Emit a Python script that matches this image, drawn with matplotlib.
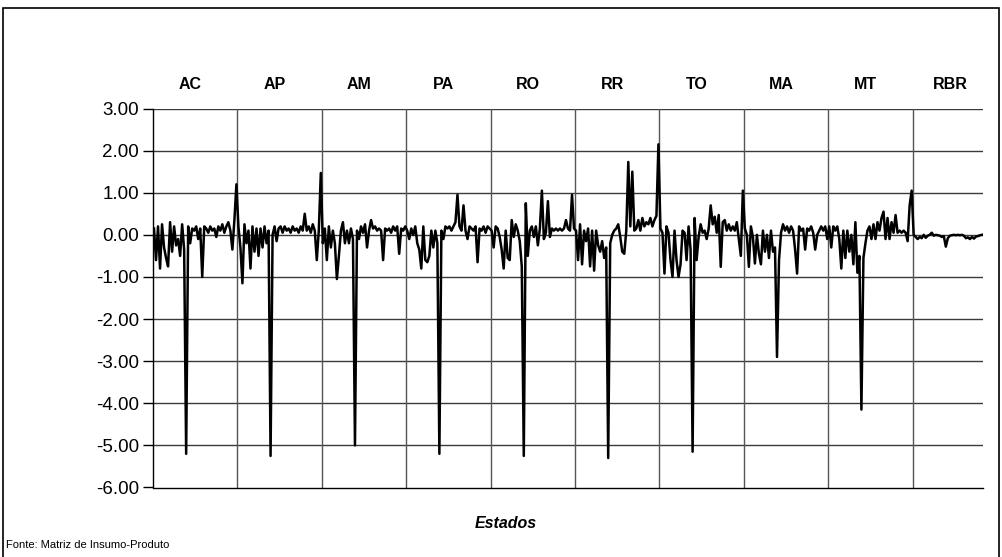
import numpy as np
import matplotlib
matplotlib.use('Agg')
import matplotlib.pyplot as plt
from matplotlib.ticker import FormatStrFormatter, MultipleLocator
from matplotlib.patches import Rectangle

plt.rcParams['font.family'] = ['Liberation Sans', 'DejaVu Sans']
plt.rcParams['axes.unicode_minus'] = False

#state groups, 42 sectors each (RBR is shorter)
states = ['AC', 'AP', 'AM', 'PA', 'RO', 'RR', 'TO', 'MA', 'MT', 'RBR']

ac = [0.15, -0.6, 0.2, -0.8, 0.25, -0.3, -0.55, -0.75, 0.3, -0.4, 0.2, -0.25, -0.1, -0.5, 0.25, -0.35,
      -5.2, 0.2, -0.2, 0.15, 0.1, 0.2, -0.1, 0.15, -1.0, 0.2, 0.15, 0.05, 0.2, 0.1, 0.15, -0.05,
      0.2, 0.1, 0.25, 0.05, 0.2, 0.3, 0.1, -0.35, 0.35, 1.2]
ap = [0.2, -0.3, -1.15, 0.25, -0.2, 0.1, -0.8, 0.2, -0.4, 0.15, -0.5, 0.15, -0.3, 0.2, -0.2, 0.1,
      -5.25, 0.0, 0.2, -0.15, 0.15, 0.2, 0.05, 0.2, 0.1, 0.15, 0.05, 0.2, 0.1, 0.15, 0.05, 0.2,
      0.1, 0.5, 0.1, 0.2, 0.05, 0.25, 0.1, -0.6, 0.1, 1.47]
am = [-0.2, 0.15, -0.6, 0.2, -0.3, 0.1, -0.2, -1.05, -0.5, 0.1, 0.3, -0.2, 0.1, -0.2, 0.15, -0.1,
      -5.0, 0.1, -0.1, 0.2, 0.05, 0.25, -0.3, 0.1, 0.35, 0.15, 0.2, 0.1, 0.15, 0.1, -0.6, 0.15,
      0.1, 0.15, 0.05, 0.2, 0.1, 0.2, -0.45, 0.15, 0.1, 0.2]
pa = [0.1, -0.1, 0.15, 0.0, 0.2, -0.2, -0.35, -0.8, 0.2, -0.6, -0.65, -0.5, 0.1, -0.3, 0.1, -0.2,
      -5.2, 0.1, -0.1, 0.2, 0.15, 0.2, 0.1, 0.2, 0.3, 0.95, 0.2, 0.1, 0.7, 0.1, -0.1, 0.2,
      0.15, 0.1, 0.2, -0.65, 0.15, 0.1, 0.2, 0.05, 0.2, 0.15]
ro = [0.1, -0.3, 0.2, 0.15, -0.05, -0.35, -0.8, 0.1, -0.55, -0.6, 0.35, -0.05, 0.25, 0.1, -0.15, -0.75,
      -5.25, 0.75, -0.5, 0.1, 0.2, -0.05, 0.2, -0.25, 0.15, 1.05, -0.1, 0.05, 0.8, -0.05, 0.15, 0.1,
      0.15, 0.1, 0.15, 0.1, 0.15, 0.35, 0.15, 0.1, 0.95, 0.15]
rr = [0.1, -0.6, 0.25, -0.7, 0.1, -0.15, 0.15, -0.75, 0.1, -0.85, 0.1, -0.25, -0.4, -0.15, -0.55, -0.3,
      -5.3, -0.2, 0.0, 0.1, 0.15, 0.25, -0.05, -0.4, -0.45, 0.1, 1.73, 0.2, 1.5, 0.1, 0.15, 0.35,
      0.1, 0.4, 0.2, 0.3, 0.25, 0.4, 0.2, 0.35, 0.45, 2.15]
to = [0.15, 0.05, -0.92, 0.2, 0.05, -0.6, -1.0, 0.1, -0.6, -1.0, -0.7, 0.1, 0.05, -0.6, 0.2, -0.35,
      -5.15, 0.4, -0.6, -0.05, 0.25, 0.05, 0.1, -0.1, 0.15, 0.7, 0.25, 0.43, 0.05, 0.47, -0.76, 0.3,
      0.35, 0.1, 0.25, 0.1, 0.2, 0.1, 0.3, -0.1, -0.5, 1.05]
ma = [0.15, 0.0, -0.76, 0.2, -0.05, -0.68, 0.0, -0.45, -0.7, 0.1, -0.4, 0.0, -0.55, 0.1, -0.4, -0.3,
      -2.9, -0.6, 0.05, 0.25, 0.1, 0.2, 0.05, 0.2, 0.1, -0.35, -0.92, 0.2, 0.1, 0.15, -0.35, 0.15,
      0.1, 0.2, 0.05, -0.35, 0.0, 0.1, 0.2, 0.1, 0.2, -0.1]
mt = [0.2, -0.3, 0.2, 0.1, 0.2, -0.1, -0.8, 0.1, -0.55, 0.1, -0.4, 0.0, -0.7, 0.3, -0.9, -0.5,
      -4.15, -0.55, -0.2, 0.1, 0.2, -0.1, 0.25, -0.1, 0.3, 0.1, 0.4, 0.55, -0.1, 0.4, -0.1, 0.3,
      0.05, 0.47, 0.05, 0.1, 0.05, 0.1, 0.05, -0.15, 0.7, 1.05]
rbr = [0.0, -0.05, -0.1, -0.05, -0.08, 0.0, -0.07, -0.02, 0.0, 0.05, -0.02, 0.0, -0.01, -0.02, -0.05, -0.03,
       -0.28, -0.08, -0.02, -0.01, 0.0, -0.01, 0.0, -0.01, 0.0, -0.02, -0.08, -0.06, -0.1, -0.05, -0.09, -0.04,
       -0.03, -0.01, 0.0]

groups = [ac, ap, am, pa, ro, rr, to, ma, mt, rbr]
values = np.concatenate(groups)
n = len(values)
x = np.arange(n) + 0.5
starts = np.cumsum([0] + [len(g) for g in groups])

fig = plt.figure(figsize=(10.02, 5.57), dpi=100)
ax = fig.add_axes([153/1002, 1 - 487.5/557, 830/1002, 379/557])

ax.plot(x, values, color='black', linewidth=1.8)

ax.set_xlim(0, n)
ax.set_ylim(-6, 3)
ax.yaxis.set_major_locator(MultipleLocator(1))
ax.yaxis.set_major_formatter(FormatStrFormatter('%.2f'))
ax.tick_params(axis='y', labelsize=13.5, length=7, width=1, direction='out', pad=3)
ax.set_xticks([])

#grid lines
for yv in range(-5, 4):
    ax.axhline(yv, color='#3a3a3a', linewidth=1, zorder=0)
for s in starts[1:-1]:
    ax.axvline(s, color='#555555', linewidth=1, zorder=0)

for side in ['top', 'right']:
    ax.spines[side].set_visible(False)
ax.spines['left'].set_linewidth(1)
ax.spines['bottom'].set_linewidth(1)

#state names above the plot
for name, s in zip(states, starts[:-1]):
    ax.text(s + 18.5, 3.56, name, ha='center', va='center', fontsize=11.5,
            fontweight='bold', clip_on=False)

fig.text(506/1002, 1 - 524/557, 'Estados', ha='center', va='center', fontsize=11.5,
         fontweight='bold', style='italic')
fig.text(6/1002, 1 - 545/557, 'Fonte: Matriz de Insumo-Produto', ha='left', va='center',
         fontsize=8)

#outer frame
fig.patches.append(Rectangle((3/1002, -0.05), 996/1002, 1.05 - 8/557, transform=fig.transFigure,
                             fill=False, edgecolor='black', linewidth=1.2))

fig.savefig('out.png', dpi=100)
